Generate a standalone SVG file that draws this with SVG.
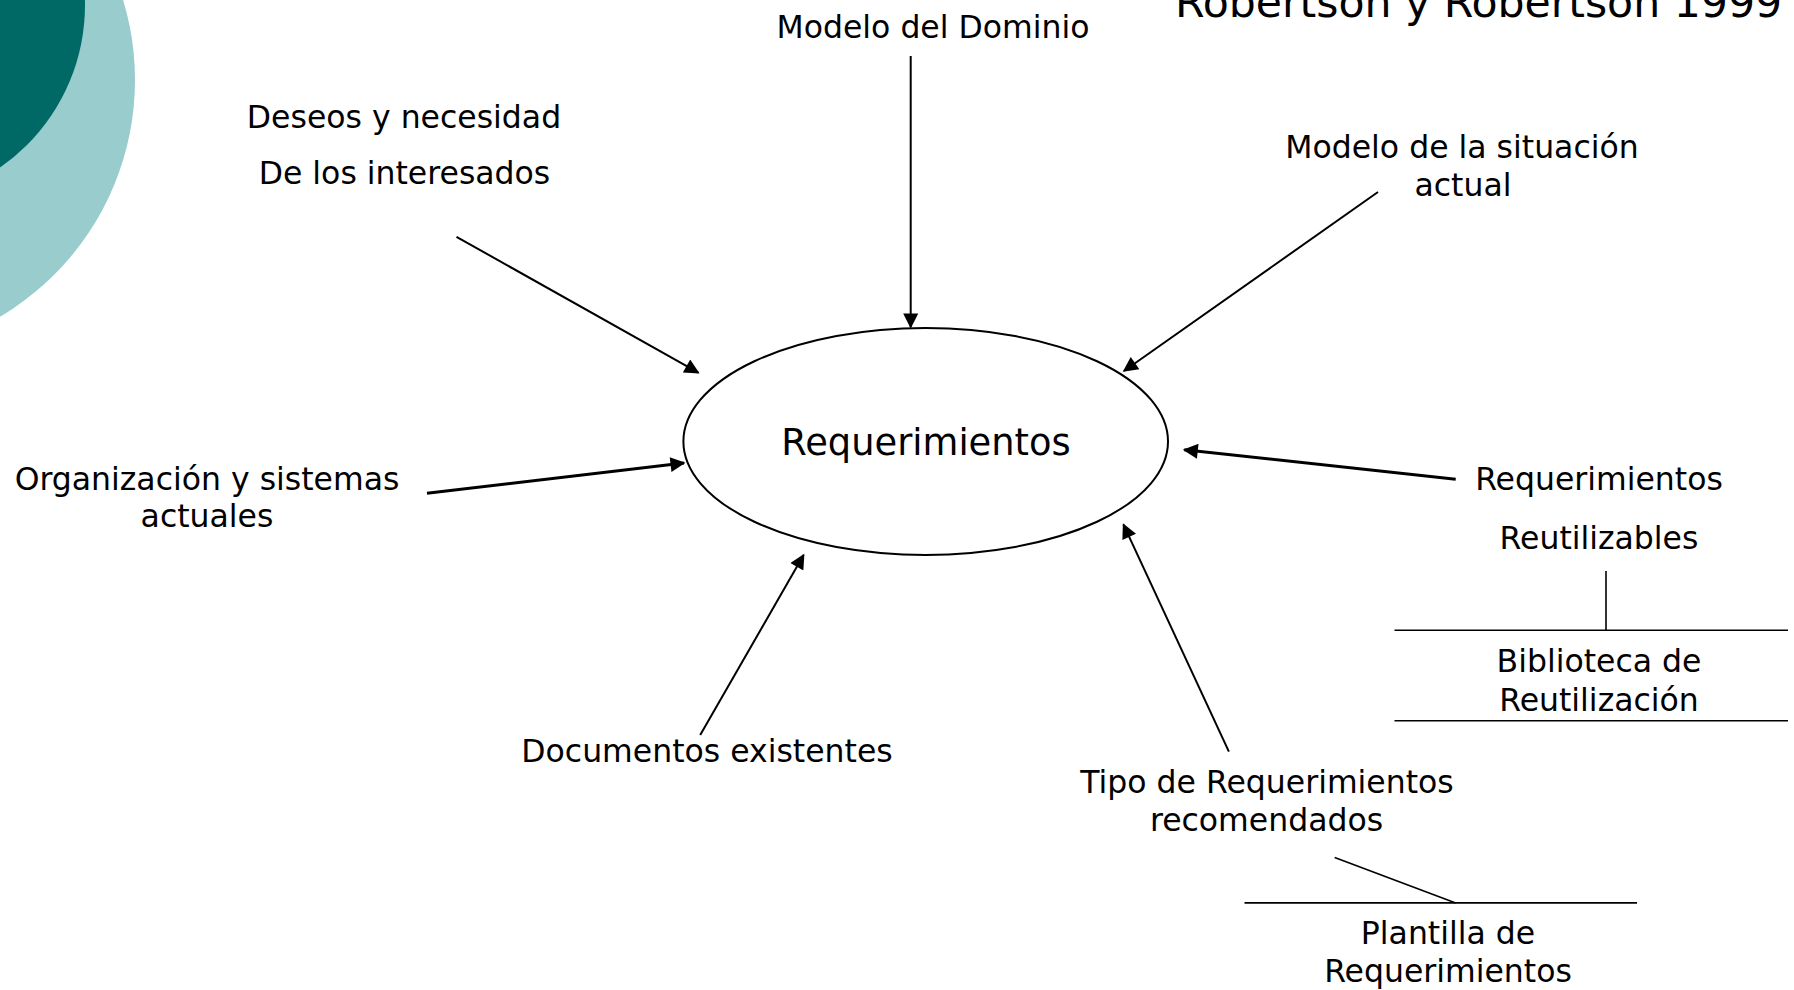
<svg xmlns="http://www.w3.org/2000/svg" width="1794" height="990" viewBox="0 0 1794 990">
  <style>
    .lbl { font-family: "DejaVu Sans", Verdana, sans-serif; font-size: 31.5px; fill: #000; text-anchor: middle; }
    .main { font-size: 36.8px; }
    .title { font-family: "DejaVu Sans", Verdana, sans-serif; font-size: 42.6px; fill: #000; }
    .arr { stroke: #000; stroke-width: 2; fill: none; marker-end: url(#ah); }
    .arr.thick { stroke-width: 3; }
    .ln { stroke: #000; stroke-width: 1.6; fill: none; }
  </style>
  <defs>
    <marker id="ah" viewBox="0 0 10 10" refX="9" refY="5" markerUnits="userSpaceOnUse" markerWidth="17" markerHeight="15" orient="auto">
      <path d="M0,0 L10,5 L0,10 z" fill="#000"/>
    </marker>
  </defs>
  <rect width="1794" height="990" fill="#fff"/>
  <g id="background">
    <circle cx="-140" cy="80" r="275" fill="#99CCCC"/>
    <circle cx="-113" cy="5" r="198" fill="#006966"/>
  </g>
  <text class="title" x="1175" y="17">Robertson y Robertson 1999</text>

  <g id="connectors">
    <line class="arr" x1="456.5" y1="236.8" x2="698.3" y2="372.7"/>
    <line class="arr" x1="910.7" y1="56" x2="910.7" y2="327"/>
    <line class="arr" x1="1378" y1="192" x2="1124" y2="371"/>
    <line class="arr thick" x1="427" y1="493.3" x2="684" y2="463"/>
    <line class="arr thick" x1="1455.7" y1="479.3" x2="1184.3" y2="449.8"/>
    <line class="arr" x1="700.2" y1="735" x2="803.6" y2="555"/>
    <line class="arr" x1="1228.9" y1="751.6" x2="1123.5" y2="524.7"/>
    <line class="ln" x1="1606" y1="570.9" x2="1606" y2="630.2"/>
    <line class="ln" x1="1334.7" y1="857.5" x2="1455.7" y2="902.9"/>
  </g>

  <g id="requerimientos">
    <ellipse cx="925.7" cy="441.5" rx="242.3" ry="113.5" fill="#fff" stroke="#000" stroke-width="2"/>
    <text class="lbl main" x="926" y="455">Requerimientos</text>
  </g>
  <g id="modelo-dominio">
    <text class="lbl" x="933" y="37.7">Modelo del Dominio</text>
  </g>
  <g id="deseos">
    <text class="lbl" x="404" y="127.7">Deseos y necesidad</text>
    <text class="lbl" x="404.5" y="184">De los interesados</text>
  </g>
  <g id="modelo-situacion">
    <text class="lbl" x="1462" y="157.7">Modelo de la situación</text>
    <text class="lbl" x="1463" y="196">actual</text>
  </g>
  <g id="organizacion">
    <text class="lbl" x="207" y="490">Organización y sistemas</text>
    <text class="lbl" x="207" y="527">actuales</text>
  </g>
  <g id="reutilizables">
    <text class="lbl" x="1599" y="490.2">Requerimientos</text>
    <text class="lbl" x="1599" y="549.1">Reutilizables</text>
  </g>
  <g id="biblioteca">
    <line class="ln" x1="1394.5" y1="630.2" x2="1788" y2="630.2"/>
    <line class="ln" x1="1394.5" y1="720.7" x2="1788" y2="720.7" stroke-width="2"/>
    <text class="lbl" x="1599" y="672">Biblioteca de</text>
    <text class="lbl" x="1599" y="710.9">Reutilización</text>
  </g>
  <g id="documentos">
    <text class="lbl" x="707" y="762">Documentos existentes</text>
  </g>
  <g id="tipo">
    <text class="lbl" x="1267" y="792.7">Tipo de Requerimientos</text>
    <text class="lbl" x="1266.5" y="830.9">recomendados</text>
  </g>
  <g id="plantilla">
    <line class="ln" x1="1244.5" y1="902.9" x2="1637" y2="902.9"/>
    <text class="lbl" x="1448" y="944.4">Plantilla de</text>
    <text class="lbl" x="1448" y="981.8">Requerimientos</text>
  </g>
</svg>
